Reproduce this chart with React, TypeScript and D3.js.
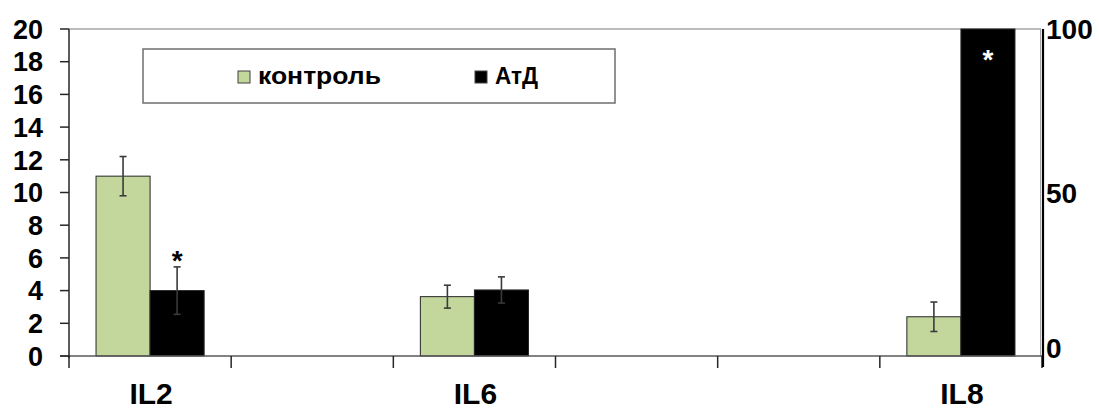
import React from "react";
import * as d3 from "d3";

// Cytokine levels: control vs AtD, with IL8 read against the secondary axis
const categories = ["IL2", "", "IL6", "", "", "IL8"];
const seriesNames = ["контроль", "АтД"];
const controlValues: (number | null)[] = [11.0, null, 3.63, null, null, 12];
const controlErrors: (number | null)[] = [1.2, null, 0.7, null, null, 4.5];
const atdValues: (number | null)[] = [4.0, null, 4.04, null, null, 100];
const atdErrors: (number | null)[] = [1.45, null, 0.8, null, null, null];
const atdSignificant = [true, false, false, false, false, true];
const useSecondaryAxis = [false, false, false, false, false, true];
const leftTicks = [0, 2, 4, 6, 8, 10, 12, 14, 16, 18, 20];
const rightTicks = [0, 50, 100];

const W = 1099;
const H = 410;
const margin = { left: 69, right: 1042, top: 29, bottom: 356 };
const FONT = "'Liberation Sans', Arial, sans-serif";
const GREEN = "#c3d69b";
const BLACK = "#000000";

export default function App() {
  const x = d3
    .scaleBand<number>()
    .domain(categories.map((_, i) => i))
    .range([margin.left, margin.right])
    .padding(0);
  const band = x.bandwidth();
  const barW = band / 3;
  const inner = d3
    .scaleBand<number>()
    .domain([0, 1])
    .range([band / 2 - barW, band / 2 + barW])
    .padding(0);

  const yLeft = d3.scaleLinear().domain([0, 20]).range([margin.bottom, margin.top]);
  const yRight = d3.scaleLinear().domain([0, 100]).range([margin.bottom, margin.top]);

  const series = [
    { name: seriesNames[0], values: controlValues, errors: controlErrors, fill: GREEN, textLen: 123 },
    { name: seriesNames[1], values: atdValues, errors: atdErrors, fill: BLACK, textLen: 43 },
  ];

  const clampY = (y: number) => Math.max(margin.top, Math.min(margin.bottom, y));

  const boundaries = d3.range(categories.length + 1).map((i) => margin.left + i * band);

  return (
    <svg
      width={W}
      height={H}
      style={{ position: "absolute", left: 0, top: 0, display: "block", background: "#fff" }}
      fontFamily={FONT}
    >
      <rect x={0} y={0} width={W} height={H} fill="#fff" />

      {/* plot area frame */}
      <line x1={margin.left} x2={margin.right - 1} y1={margin.top} y2={margin.top} stroke="#a6a6a6" strokeWidth={1.5} />
      <line x1={margin.right - 1.5} x2={margin.right - 1.5} y1={margin.top} y2={margin.bottom} stroke="#a6a6a6" strokeWidth={1} />

      {/* bars */}
      {series.map((s, si) =>
        s.values.map((v, ci) => {
          if (v == null) return null;
          const y = useSecondaryAxis[ci] ? yRight : yLeft;
          const x0 = (x(ci) as number) + (inner(si) as number);
          const top = clampY(y(v));
          return (
            <rect
              key={`b-${si}-${ci}`}
              x={x0}
              y={top}
              width={inner.bandwidth()}
              height={margin.bottom - top}
              fill={s.fill}
              stroke="#262626"
              strokeWidth={1}
            />
          );
        })
      )}

      {/* error bars */}
      {series.map((s, si) =>
        s.values.map((v, ci) => {
          const e = s.errors[ci];
          if (v == null || e == null) return null;
          const y = useSecondaryAxis[ci] ? yRight : yLeft;
          const cx = (x(ci) as number) + (inner(si) as number) + inner.bandwidth() / 2;
          const y1 = clampY(y(v + e));
          const y2 = clampY(y(v - e));
          return (
            <g key={`e-${si}-${ci}`} stroke="#3a3a3a" strokeWidth={1.6}>
              <line x1={cx} x2={cx} y1={y1} y2={y2} />
              <line x1={cx - 3.5} x2={cx + 3.5} y1={y1} y2={y1} />
              <line x1={cx - 3.5} x2={cx + 3.5} y1={y2} y2={y2} />
            </g>
          );
        })
      )}

      {/* significance marks */}
      {atdSignificant.map((sig, ci) => {
        const v = atdValues[ci];
        if (!sig || v == null) return null;
        const y = useSecondaryAxis[ci] ? yRight : yLeft;
        const cx = (x(ci) as number) + (inner(1) as number) + inner.bandwidth() / 2;
        const clipped = y(v) <= margin.top;
        const e = atdErrors[ci] ?? 0;
        const centre = clipped ? margin.top + 24 : y(v + e) - 12;
        return (
          <text
            key={`s-${ci}`}
            x={cx}
            y={centre + 15.5}
            textAnchor="middle"
            fontSize={28}
            fontWeight="bold"
            fill={clipped ? "#ffffff" : "#000000"}
          >
            *
          </text>
        );
      })}

      {/* category axis */}
      <line x1={margin.left - 9} x2={margin.right} y1={margin.bottom} y2={margin.bottom} stroke="#595959" strokeWidth={1.5} />
      {boundaries.map((bx, i) => (
        <line key={`ct-${i}`} x1={bx} x2={bx} y1={margin.bottom} y2={margin.bottom + 12} stroke="#262626" strokeWidth={1.5} />
      ))}
      {categories.map((c, i) =>
        c ? (
          <text
            key={`cl-${i}`}
            x={(x(i) as number) + band / 2 + 1}
            y={404}
            textAnchor="middle"
            fontSize={30}
            fontWeight="bold"
            fill="#000"
          >
            {c}
          </text>
        ) : null
      )}

      {/* primary value axis */}
      <line x1={margin.left} x2={margin.left} y1={margin.top} y2={margin.bottom + 2} stroke="#262626" strokeWidth={1.5} />
      {leftTicks.map((t) => (
        <g key={`lt-${t}`}>
          <line x1={margin.left - 9} x2={margin.left} y1={yLeft(t)} y2={yLeft(t)} stroke="#262626" strokeWidth={1.5} />
          <text x={43} y={yLeft(t)} dy="0.36em" textAnchor="end" fontSize={27} fontWeight="bold" fill="#000">
            {t}
          </text>
        </g>
      ))}

      {/* secondary value axis */}
      <line x1={margin.right + 1} x2={margin.right + 1} y1={margin.top} y2={margin.bottom + 11} stroke="#000" strokeWidth={2.2} />
      {rightTicks.map((t) => {
        const baseline = Math.min(yRight(t) + 10, margin.bottom + 2);
        return (
          <text key={`rt-${t}`} x={1046} y={baseline} textAnchor="start" fontSize={28} fontWeight="bold" fill="#000">
            {t}
          </text>
        );
      })}

      {/* legend */}
      <rect x={143} y={49} width={472} height={54} fill="#fff" stroke="#6e6e6e" strokeWidth={1.5} />
      {series.map((s, si) => {
        const lx = si === 0 ? 238 : 475;
        return (
          <g key={`lg-${si}`}>
            <rect x={lx} y={71} width={12} height={12} fill={s.fill} stroke="#404040" strokeWidth={1} />
            <text
              x={lx + 20}
              y={84}
              fontSize={24}
              fontWeight="bold"
              fill="#000"
              textLength={s.textLen}
              lengthAdjust="spacingAndGlyphs"
            >
              {s.name}
            </text>
          </g>
        );
      })}
    </svg>
  );
}
